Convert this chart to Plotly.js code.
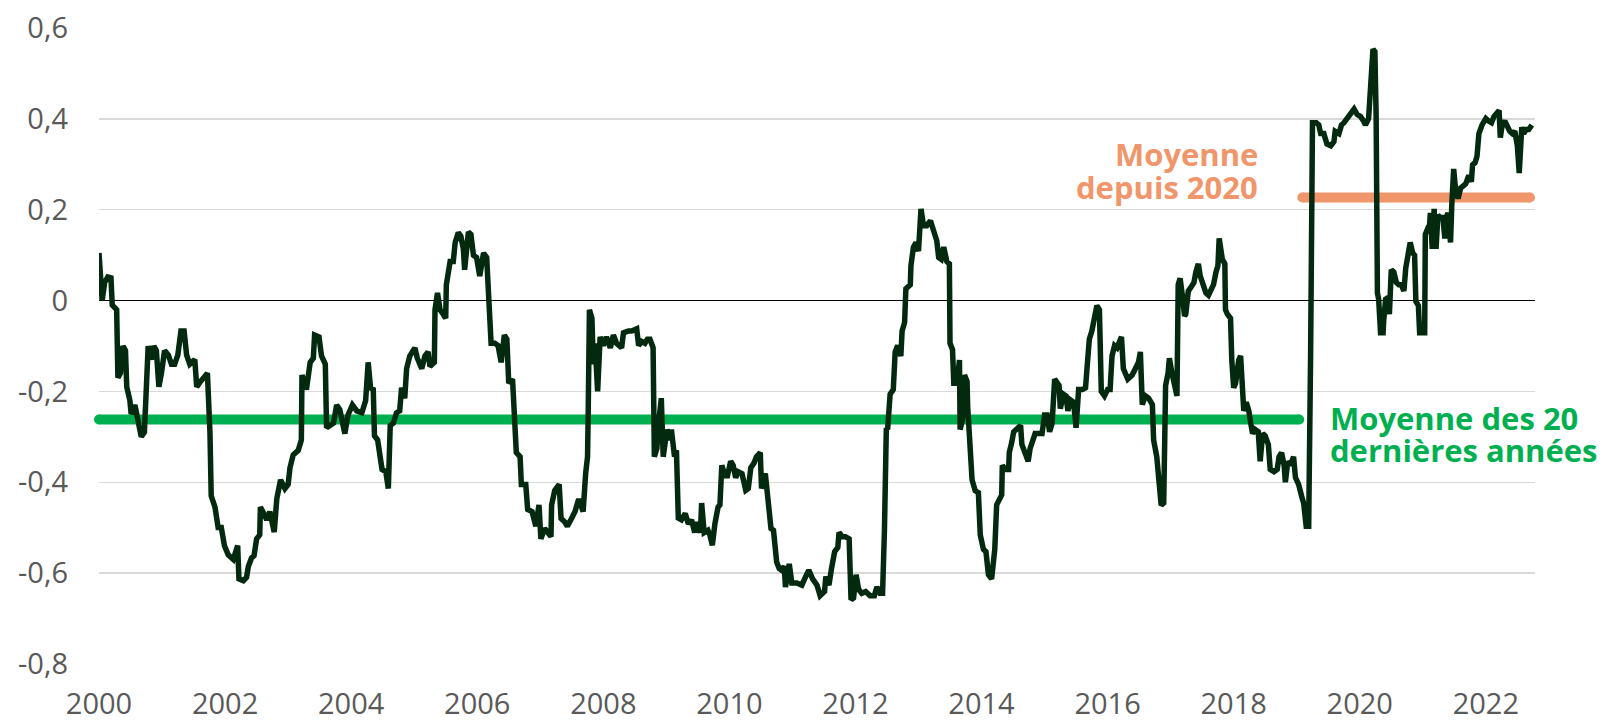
<!DOCTYPE html>
<html>
<head>
<meta charset="utf-8">
<script src="https://cdn.plot.ly/plotly-3.0.1.min.js"></script>
<style>
  html, body { margin: 0; padding: 0; background: #ffffff; }
  #chart { width: 1606px; height: 721px; }
</style>
</head>
<body>
<div id="chart"></div>
<script>
// ---- Data (decimal years) ----
const dates = [
2000.00,2000.01,2000.05,2000.09,2000.14,2000.19,2000.21,2000.28,2000.30,2000.34,2000.38,2000.42,2000.44,2000.49,2000.51,2000.57,2000.62,2000.67,2000.72,2000.75,2000.78,2000.83,2000.87,2000.91,2000.95,2000.99,
2001.04,2001.10,2001.15,2001.20,2001.25,2001.30,2001.35,2001.39,2001.44,2001.52,2001.55,2001.60,2001.65,2001.72,2001.76,2001.78,2001.84,2001.89,2001.94,2001.99,
2002.05,2002.13,2002.20,2002.22,2002.29,2002.34,2002.37,2002.42,2002.46,2002.50,2002.55,2002.56,2002.60,2002.66,2002.71,2002.78,2002.82,2002.88,2002.95,
2003.00,2003.03,2003.08,2003.16,2003.21,2003.22,2003.29,2003.35,2003.40,2003.42,2003.49,2003.53,2003.59,2003.61,2003.66,2003.72,2003.77,2003.82,2003.90,2003.95,
2004.02,2004.09,2004.17,2004.23,2004.27,2004.31,2004.35,2004.37,2004.42,2004.46,2004.49,2004.55,2004.59,2004.62,2004.67,2004.72,2004.77,2004.80,2004.85,2004.88,2004.93,
2005.01,2005.05,2005.12,2005.17,2005.22,2005.25,2005.32,2005.33,2005.37,2005.41,2005.46,2005.50,2005.51,2005.57,2005.62,2005.65,2005.70,2005.74,2005.78,2005.80,2005.86,2005.90,2005.94,2005.99,
2006.04,2006.10,2006.15,2006.18,2006.22,2006.28,2006.33,2006.38,2006.43,2006.47,2006.50,2006.56,2006.60,2006.62,2006.68,2006.70,2006.77,2006.80,2006.87,2006.93,2006.98,
2007.01,2007.07,2007.17,2007.18,2007.23,2007.30,2007.33,2007.39,2007.43,2007.50,2007.55,2007.61,2007.68,2007.72,2007.75,2007.76,2007.78,2007.82,2007.84,2007.87,2007.91,2007.95,
2008.00,2008.05,2008.11,2008.16,2008.21,2008.29,2008.32,2008.40,2008.45,2008.53,2008.56,2008.61,2008.66,2008.70,2008.74,2008.79,2008.81,2008.85,2008.87,2008.92,2008.95,
2009.01,2009.06,2009.08,2009.13,2009.16,2009.19,2009.24,2009.30,2009.35,2009.40,2009.45,2009.48,2009.54,2009.56,2009.60,2009.66,2009.69,2009.73,2009.77,2009.82,2009.85,2009.88,2009.93,2009.97,
2010.02,2010.06,2010.10,2010.14,2010.20,2010.26,2010.30,2010.34,2010.39,2010.43,2010.49,2010.51,2010.57,2010.62,2010.66,2010.70,2010.75,2010.79,2010.83,2010.87,2010.89,2010.95,2010.99,
2011.07,2011.15,2011.21,2011.26,2011.32,2011.39,2011.44,2011.51,2011.53,2011.58,2011.62,2011.67,2011.72,2011.74,2011.79,2011.84,2011.90,2011.93,2011.97,
2012.01,2012.05,2012.10,2012.16,2012.23,2012.30,2012.34,2012.39,2012.43,2012.46,2012.49,2012.51,2012.55,2012.60,2012.63,2012.67,2012.72,2012.74,2012.78,2012.80,2012.87,2012.88,2012.92,2012.96,
2013.00,2013.04,2013.08,2013.13,2013.19,2013.24,2013.29,2013.32,2013.36,2013.40,2013.45,2013.49,2013.50,2013.54,2013.56,2013.61,2013.65,2013.66,2013.70,2013.73,2013.77,2013.78,2013.82,2013.85,2013.90,2013.95,2013.98,
2014.03,2014.07,2014.11,2014.16,2014.21,2014.24,2014.30,2014.32,2014.33,2014.38,2014.43,2014.44,2014.48,2014.51,2014.58,2014.62,2014.64,2014.69,2014.74,2014.77,2014.81,2014.85,2014.91,2014.96,
2015.00,2015.04,2015.08,2015.12,2015.16,2015.20,2015.23,2015.25,2015.30,2015.34,2015.37,2015.41,2015.46,2015.50,2015.54,2015.60,2015.65,2015.67,2015.71,2015.75,2015.79,2015.83,2015.87,2015.90,2015.95,
2016.00,2016.04,2016.07,2016.11,2016.15,2016.19,2016.22,2016.25,2016.32,2016.39,2016.44,2016.49,2016.52,2016.55,2016.60,2016.65,2016.71,2016.73,2016.78,2016.82,2016.85,2016.89,2016.92,2016.96,2016.98,
2017.02,2017.08,2017.10,2017.12,2017.15,2017.19,2017.22,2017.24,2017.28,2017.33,2017.37,2017.40,2017.44,2017.47,2017.51,2017.56,2017.60,2017.65,2017.68,2017.72,2017.75,2017.77,2017.82,2017.86,2017.87,2017.90,2017.95,2017.97,
2018.00,2018.03,2018.05,2018.08,2018.11,2018.13,2018.16,2018.20,2018.24,2018.27,2018.30,2018.34,2018.39,2018.42,2018.46,2018.50,2018.55,2018.58,2018.64,2018.69,2018.72,2018.76,2018.80,2018.82,2018.86,2018.90,2018.95,2018.98,
2019.03,2019.08,2019.11,2019.15,2019.19,2019.22,2019.23,2019.25,2019.31,2019.35,2019.38,2019.43,2019.48,2019.54,2019.59,2019.61,2019.67,2019.71,2019.75,2019.80,2019.85,2019.91,2019.96,
2020.01,2020.06,2020.09,2020.14,2020.17,2020.21,2020.24,2020.26,2020.28,2020.30,2020.33,2020.37,2020.38,2020.41,2020.45,2020.47,2020.50,2020.54,2020.58,2020.62,2020.66,2020.70,2020.73,2020.77,2020.80,2020.84,2020.87,2020.89,2020.93,2020.95,2020.99,
2021.03,2021.04,2021.07,2021.10,2021.12,2021.15,2021.18,2021.21,2021.24,2021.28,2021.32,2021.35,2021.37,2021.40,2021.44,2021.46,2021.49,2021.52,2021.56,2021.60,2021.68,2021.73,2021.77,2021.79,2021.83,2021.86,2021.89,2021.94,
2022.00,2022.04,2022.09,2022.13,2022.16,2022.21,2022.23,2022.26,2022.30,2022.34,2022.38,2022.42,2022.46,2022.50,2022.53,2022.57,2022.60,2022.64,2022.68,2022.73
];

const values = [
0.105,0.07,0.0,0.04,0.052,0.05,-0.01,-0.02,-0.17,-0.16,-0.10,-0.11,-0.19,-0.22,-0.25,-0.23,-0.27,-0.30,-0.29,-0.16,-0.10,-0.13,-0.10,-0.11,-0.19,-0.16,
-0.11,-0.12,-0.14,-0.14,-0.12,-0.067,-0.067,-0.12,-0.14,-0.13,-0.19,-0.18,-0.17,-0.16,-0.29,-0.43,-0.455,-0.50,-0.50,-0.54,
-0.56,-0.57,-0.54,-0.613,-0.617,-0.61,-0.585,-0.567,-0.562,-0.525,-0.516,-0.455,-0.465,-0.483,-0.465,-0.51,-0.437,-0.395,-0.414,
-0.405,-0.368,-0.34,-0.33,-0.307,-0.164,-0.196,-0.136,-0.127,-0.076,-0.08,-0.122,-0.14,-0.28,-0.275,-0.27,-0.23,-0.24,-0.293,-0.252,
-0.23,-0.243,-0.247,-0.22,-0.136,-0.196,-0.192,-0.298,-0.307,-0.34,-0.372,-0.377,-0.414,-0.275,-0.27,-0.247,-0.243,-0.192,-0.215,-0.15,-0.122,
-0.104,-0.127,-0.15,-0.122,-0.113,-0.145,-0.136,-0.02,0.017,-0.02,-0.03,-0.039,0.035,0.086,0.086,0.128,0.15,0.142,0.114,0.068,0.151,0.146,0.10,0.095,
0.054,0.105,0.095,-0.011,-0.094,-0.094,-0.099,-0.136,-0.076,-0.085,-0.182,-0.173,-0.256,-0.335,-0.344,-0.405,-0.405,-0.46,-0.465,-0.497,-0.45,
-0.525,-0.502,-0.52,-0.45,-0.418,-0.405,-0.48,-0.488,-0.497,-0.479,-0.465,-0.437,-0.465,-0.381,-0.344,-0.252,-0.02,-0.039,-0.14,-0.094,-0.20,-0.08,
-0.099,-0.08,-0.104,-0.076,-0.094,-0.104,-0.071,-0.067,-0.067,-0.062,-0.099,-0.09,-0.094,-0.085,-0.085,-0.104,-0.344,-0.326,-0.28,-0.215,-0.344,
-0.284,-0.307,-0.284,-0.344,-0.33,-0.479,-0.483,-0.469,-0.492,-0.483,-0.511,-0.488,-0.511,-0.446,-0.511,-0.506,-0.516,-0.539,-0.492,-0.455,-0.45,-0.363,-0.386,-0.386,
-0.354,-0.363,-0.39,-0.377,-0.381,-0.418,-0.414,-0.368,-0.358,-0.344,-0.335,-0.414,-0.381,-0.455,-0.502,-0.506,-0.576,-0.59,-0.594,-0.585,-0.631,-0.58,-0.622,
-0.622,-0.627,-0.608,-0.594,-0.613,-0.627,-0.65,-0.641,-0.608,-0.627,-0.59,-0.553,-0.544,-0.511,-0.52,-0.52,-0.525,-0.659,-0.655,
-0.604,-0.636,-0.645,-0.641,-0.65,-0.65,-0.631,-0.645,-0.645,-0.506,-0.28,-0.284,-0.206,-0.196,-0.113,-0.099,-0.122,-0.067,-0.048,0.026,0.035,0.077,0.118,0.128,
0.109,0.202,0.165,0.165,0.176,0.151,0.132,0.095,0.091,0.118,0.086,0.081,-0.094,-0.108,-0.182,-0.182,-0.131,-0.284,-0.261,-0.164,-0.178,-0.233,-0.307,-0.395,-0.419,-0.423,-0.516,
-0.548,-0.553,-0.604,-0.613,-0.548,-0.45,-0.437,-0.428,-0.363,-0.372,-0.372,-0.335,-0.312,-0.289,-0.28,-0.275,-0.317,-0.335,-0.354,-0.326,-0.307,-0.293,-0.293,-0.293,
-0.252,-0.252,-0.289,-0.27,-0.173,-0.182,-0.187,-0.238,-0.206,-0.21,-0.243,-0.219,-0.224,-0.28,-0.196,-0.196,-0.192,-0.155,-0.085,-0.067,-0.039,-0.011,-0.02,-0.20,-0.21,
-0.196,-0.196,-0.122,-0.099,-0.104,-0.09,-0.08,-0.15,-0.173,-0.164,-0.15,-0.136,-0.113,-0.229,-0.21,-0.215,-0.229,-0.307,-0.344,-0.40,-0.451,-0.446,-0.187,-0.159,-0.127,
-0.159,-0.196,-0.21,0.035,0.049,0.007,-0.034,-0.03,0.021,0.031,0.04,0.063,0.081,0.054,0.04,0.017,0.012,0.026,0.035,0.063,0.077,0.137,0.091,0.081,-0.02,-0.03,-0.039,-0.131,
-0.192,-0.182,-0.15,-0.131,-0.122,-0.164,-0.243,-0.224,-0.243,-0.27,-0.293,-0.284,-0.289,-0.354,-0.293,-0.298,-0.317,-0.372,-0.377,-0.372,-0.344,-0.335,-0.363,-0.40,-0.354,-0.363,-0.344,-0.39,
-0.405,-0.432,-0.446,-0.497,-0.497,-0.122,0.156,0.392,0.392,0.387,0.368,0.368,0.345,0.341,0.35,0.373,0.368,0.387,0.392,0.401,0.41,0.422,0.41,
0.406,0.396,0.387,0.401,0.452,0.554,0.549,0.406,0.017,0.003,-0.071,-0.071,-0.044,0.003,0.007,-0.03,0.068,0.063,0.04,0.035,0.035,0.021,0.072,0.10,0.128,0.105,0.10,-0.002,-0.011,-0.071,-0.071,
-0.071,0.146,0.156,0.151,0.193,0.114,0.202,0.114,0.188,0.183,0.183,0.137,0.183,0.193,0.128,0.211,0.29,0.244,0.225,0.248,0.257,0.276,0.262,0.299,0.304,0.318,0.368,0.387,
0.401,0.396,0.392,0.406,0.41,0.419,0.359,0.387,0.396,0.382,0.373,0.368,0.373,0.341,0.281,0.382,0.368,0.377,0.377,0.387
];

// Averages
const mean20Years = -0.262;
const mean20Span = [2000.0, 2019.04];
const mean2020 = 0.227;
const mean2020Span = [2019.09, 2022.70];

// Axis ticks
const xTickVals = [2000, 2002, 2004, 2006, 2008, 2010, 2012, 2014, 2016, 2018, 2020, 2022];
const xTickText = ["2000", "2002", "2004", "2006", "2008", "2010", "2012", "2014", "2016", "2018", "2020", "2022"];
const yTickVals = [-0.8, -0.6, -0.4, -0.2, 0, 0.2, 0.4, 0.6];
const yTickText = ["-0,8", "-0,6", "-0,4", "-0,2", "0", "0,2", "0,4", "0,6"];

const GREEN = "#00b050";
const ORANGE = "#f1956a";
const DARK = "#032a0e";

const traces = [
  {
    x: mean20Span, y: [mean20Years, mean20Years],
    type: "scatter", mode: "lines+markers",
    line: { color: GREEN, width: 10 },
    marker: { color: GREEN, size: 10, line: { width: 0 } },
    cliponaxis: false, hoverinfo: "skip", showlegend: false
  },
  {
    x: mean2020Span, y: [mean2020, mean2020],
    type: "scatter", mode: "lines+markers",
    line: { color: ORANGE, width: 10 },
    marker: { color: ORANGE, size: 10, line: { width: 0 } },
    cliponaxis: false, hoverinfo: "skip", showlegend: false
  },
  {
    x: dates, y: values,
    type: "scatter", mode: "lines",
    line: { color: DARK, width: 5.5 },
    hoverinfo: "skip", showlegend: false
  }
];

const tickFont = { family: "Open Sans, sans-serif", size: 29, color: "#595959" };

const layout = {
  width: 1606, height: 721,
  margin: { l: 99, r: 71, t: 28, b: 57, pad: 0 },
  paper_bgcolor: "#ffffff", plot_bgcolor: "#ffffff",
  showlegend: false,
  xaxis: {
    range: [2000, 2022.78],
    showgrid: false, zeroline: false, showline: false,
    tickmode: "array", tickvals: xTickVals, ticktext: xTickText,
    ticks: "", tickfont: tickFont, ticklabelstandoff: 20,
    fixedrange: true
  },
  yaxis: {
    range: [-0.8006, 0.6006],
    showgrid: true, gridcolor: "#d9d9d9", gridwidth: 1.3,
    zeroline: true, zerolinecolor: "#000000", zerolinewidth: 1.2,
    showline: false,
    tickmode: "array", tickvals: yTickVals, ticktext: yTickText,
    ticks: "", tickfont: tickFont, ticklabelstandoff: 30,
    fixedrange: true
  },
  annotations: [
    { xref: "paper", yref: "paper", x: 0.8558, y: 0.3867, xanchor: "left", yanchor: "middle",
      text: "<b>Moyenne des 20</b>", showarrow: false,
      font: { family: "Open Sans, sans-serif", size: 31, color: GREEN } },
    { xref: "paper", yref: "paper", x: 0.8558, y: 0.3364, xanchor: "left", yanchor: "middle",
      text: "<b>dernières années</b>", showarrow: false,
      font: { family: "Open Sans, sans-serif", size: 31, color: GREEN } },
    { xref: "paper", yref: "paper", x: 0.8085, y: 0.8026, xanchor: "right", yanchor: "middle",
      text: "<b>Moyenne</b>", showarrow: false,
      font: { family: "Open Sans, sans-serif", size: 31, color: ORANGE } },
    { xref: "paper", yref: "paper", x: 0.8085, y: 0.7499, xanchor: "right", yanchor: "middle",
      text: "<b>depuis 2020</b>", showarrow: false,
      font: { family: "Open Sans, sans-serif", size: 31, color: ORANGE } }
  ]
};

Plotly.newPlot("chart", traces, layout, { displayModeBar: false, staticPlot: true });
</script>
</body>
</html>
